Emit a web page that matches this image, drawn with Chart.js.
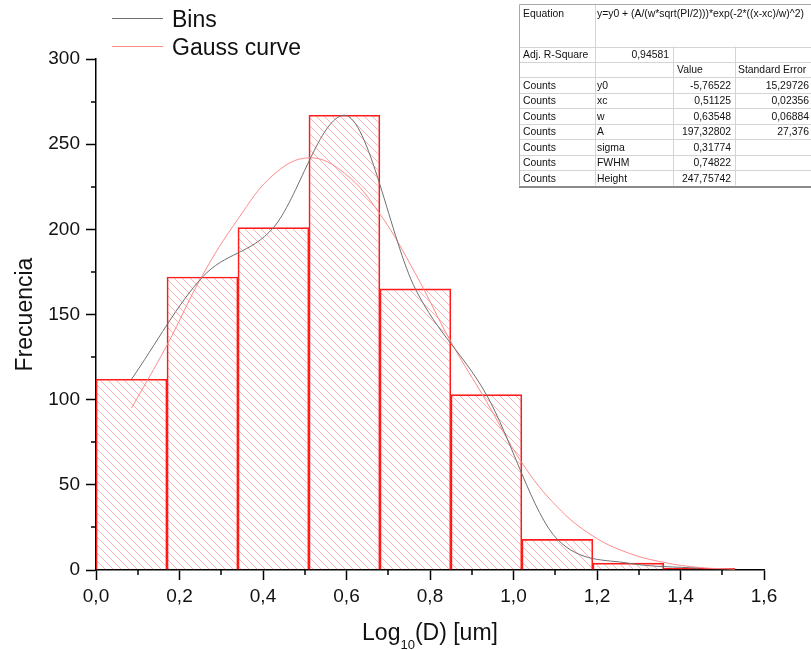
<!DOCTYPE html>
<html>
<head>
<meta charset="utf-8">
<script src="https://cdn.jsdelivr.net/npm/chart.js@4/dist/chart.umd.min.js"></script>
<style>
  html, body { margin: 0; padding: 0; background: #fff; }
  #wrap { width: 811px; height: 650px; }
</style>
</head>
<body>
<div id="wrap"><canvas id="c" width="811" height="650"></canvas></div>
<script>
// Histogram of log10 diameters: bin centres and counts
const binCenters = [0.085, 0.255, 0.425, 0.595, 0.765, 0.935, 1.105, 1.275, 1.445];
const binCounts  = [112, 172, 201, 267, 165, 103, 18, 4, 1];

// Fitted Gauss curve, sampled along the diameter axis
const gaussX = [0.085, 0.17, 0.255, 0.34, 0.425, 0.51, 0.595, 0.68, 0.765, 0.85,
                0.935, 1.02, 1.105, 1.19, 1.275, 1.36, 1.445, 1.53];
const gaussY = [95, 132, 173, 206, 232, 242, 233, 209, 174, 134,
                99, 63, 37, 20, 10, 4.5, 1.5, 0.5];

// Axis tick labels
const xTickLabels = ['0,0', '0,2', '0,4', '0,6', '0,8', '1,0', '1,2', '1,4', '1,6'];
const yTickLabels = ['0', '50', '100', '150', '200', '250', '300'];
const xMinorTicks = [0.1, 0.3, 0.5, 0.7, 0.9, 1.1, 1.3, 1.5];
const yMinorTicks = [25, 75, 125, 175, 225, 275];

// Fit report
const fitEquation = 'y=y0 + (A/(w*sqrt(PI/2)))*exp(-2*((x-xc)/w)^2)';
const adjRSquare = '0,94581';
const paramNames  = ['y0', 'xc', 'w', 'A', 'sigma', 'FWHM', 'Height'];
const paramValues = ['-5,76522', '0,51125', '0,63548', '197,32802', '0,31774', '0,74822', '247,75742'];
const paramErrors = ['15,29726', '0,02356', '0,06884', '27,376', '', '', ''];

const FONT = '"Liberation Sans", Arial, Helvetica, sans-serif';

const canvas = document.getElementById('c');
const mainCtx = canvas.getContext('2d');

// diagonal hatch used to fill the histogram bars
function makeHatch() {
  const t = document.createElement('canvas');
  t.width = 8; t.height = 8;
  const g = t.getContext('2d');
  g.strokeStyle = 'rgba(255,80,80,0.45)';
  g.lineWidth = 1;
  g.beginPath();
  g.moveTo(-1, -1); g.lineTo(9, 9);
  g.moveTo(-1, 7); g.lineTo(1, 9);
  g.moveTo(7, -1); g.lineTo(9, 1);
  g.stroke();
  return mainCtx.createPattern(t, 'repeat');
}
const hatch = makeHatch();

const decorations = {
  id: 'decorations',
  afterDraw(chart) {
    const ctx = chart.ctx;
    const xa = chart.scales.x, ya = chart.scales.y;
    const area = chart.chartArea;
    ctx.save();

    // minor ticks
    ctx.strokeStyle = '#000';
    ctx.lineWidth = 1.5;
    ctx.beginPath();
    xMinorTicks.forEach(v => {
      const px = Math.round(xa.getPixelForValue(v));
      ctx.moveTo(px, area.bottom);
      ctx.lineTo(px, area.bottom + 5);
    });
    yMinorTicks.forEach(v => {
      const py = Math.round(ya.getPixelForValue(v));
      ctx.moveTo(area.left, py);
      ctx.lineTo(area.left - 5, py);
    });
    ctx.stroke();

    // y axis title
    ctx.fillStyle = '#111';
    ctx.font = '23px ' + FONT;
    ctx.save();
    ctx.translate(32, (area.top + area.bottom) / 2);
    ctx.rotate(-Math.PI / 2);
    ctx.textAlign = 'center';
    ctx.textBaseline = 'alphabetic';
    ctx.fillText('Frecuencia', 0, 0);
    ctx.restore();

    // x axis title with subscript
    const mainFont = '23px ' + FONT, subFont = '13px ' + FONT;
    ctx.font = mainFont;
    const wA = ctx.measureText('Log').width;
    const wC = ctx.measureText('(D) [um]').width;
    ctx.font = subFont;
    const wB = ctx.measureText('10').width;
    let tx = (area.left + area.right) / 2 - (wA + wB + wC) / 2;
    const base = 640;
    ctx.textAlign = 'left';
    ctx.textBaseline = 'alphabetic';
    ctx.font = mainFont; ctx.fillText('Log', tx, base); tx += wA;
    ctx.font = subFont;  ctx.fillText('10', tx, base + 9); tx += wB;
    ctx.font = mainFont; ctx.fillText('(D) [um]', tx, base);

    // legend
    const legendItems = [
      { ds: chart.data.datasets[0], y: 18, text: 'Bins', baseline: 27 },
      { ds: chart.data.datasets[1], y: 46, text: 'Gauss curve', baseline: 55 }
    ];
    legendItems.forEach(it => {
      ctx.strokeStyle = it.ds.borderColor;
      ctx.lineWidth = 1;
      ctx.beginPath();
      ctx.moveTo(112, it.y + 0.5);
      ctx.lineTo(163, it.y + 0.5);
      ctx.stroke();
      ctx.fillStyle = '#111';
      ctx.font = '23px ' + FONT;
      ctx.fillText(it.text, 172, it.baseline);
    });

    // fit results table
    const cols = [519, 595, 673, 735];
    const right = 812;
    const rows = [4, 46.5, 61.5, 77];
    for (let i = 0; i < paramNames.length; i++) rows.push(77 + 15.5 * (i + 1));
    const bottom = rows[rows.length - 1];
    ctx.fillStyle = '#fff';
    ctx.fillRect(cols[0], rows[0], right - cols[0], bottom - rows[0]);

    ctx.strokeStyle = '#d4d4d4';
    ctx.lineWidth = 1;
    ctx.beginPath();
    rows.slice(1, -1).forEach(r => {
      const y = Math.round(r) + 0.5;
      ctx.moveTo(cols[0], y); ctx.lineTo(right, y);
    });
    ctx.moveTo(cols[1] + 0.5, rows[0]); ctx.lineTo(cols[1] + 0.5, bottom);
    ctx.moveTo(cols[2] + 0.5, rows[1]); ctx.lineTo(cols[2] + 0.5, bottom);
    ctx.moveTo(cols[3] + 0.5, rows[1]); ctx.lineTo(cols[3] + 0.5, bottom);
    ctx.stroke();

    ctx.strokeStyle = '#a8a8a8';
    ctx.beginPath();
    ctx.moveTo(cols[0] + 0.5, bottom); ctx.lineTo(cols[0] + 0.5, rows[0] + 0.5);
    ctx.lineTo(right, rows[0] + 0.5);
    ctx.stroke();
    ctx.strokeStyle = '#8a8a8a';
    ctx.lineWidth = 2;
    ctx.beginPath();
    ctx.moveTo(cols[0], Math.round(bottom) + 1); ctx.lineTo(right, Math.round(bottom) + 1);
    ctx.stroke();

    ctx.fillStyle = '#111';
    ctx.font = '10.4px ' + FONT;
    ctx.textBaseline = 'alphabetic';
    const padL = 4;
    ctx.textAlign = 'left';
    ctx.fillText('Equation', cols[0] + padL, 17);
    ctx.fillText(fitEquation, cols[1] + 2, 17);
    ctx.fillText('Adj. R-Square', cols[0] + padL, rows[2] - 4);
    ctx.fillText('Value', cols[2] + 4, rows[3] - 4);
    ctx.fillText('Standard Error', cols[3] + 3, rows[3] - 4);
    ctx.textAlign = 'right';
    ctx.fillText(adjRSquare, cols[2] - 4, rows[2] - 4);
    paramNames.forEach((name, i) => {
      const by = rows[4 + i] - 4;
      ctx.textAlign = 'left';
      ctx.fillText('Counts', cols[0] + padL, by);
      ctx.fillText(name, cols[1] + 2, by);
      ctx.textAlign = 'right';
      ctx.fillText(paramValues[i], cols[3] - 4, by);
      if (paramErrors[i]) ctx.fillText(paramErrors[i], 809, by);
    });

    ctx.restore();
  }
};

new Chart(canvas, {
  type: 'line',
  data: {
    datasets: [
      {
        type: 'line',
        label: 'Bins',
        data: binCenters.map((x, i) => ({ x, y: binCounts[i] })),
        borderColor: '#707070',
        borderWidth: 1,
        pointRadius: 0,
        cubicInterpolationMode: 'monotone',
        fill: false,
        order: 0
      },
      {
        type: 'line',
        label: 'Gauss curve',
        data: gaussX.map((x, i) => ({ x, y: gaussY[i] })),
        borderColor: '#ff8a8a',
        borderWidth: 1,
        pointRadius: 0,
        tension: 0.4,
        fill: false,
        order: 1
      },
      {
        type: 'bar',
        label: 'Counts',
        data: binCenters.map((x, i) => ({ x, y: binCounts[i] })),
        backgroundColor: hatch,
        borderColor: '#ff1a1a',
        borderWidth: 1,
        barPercentage: 1,
        categoryPercentage: 1,
        order: 2
      }
    ]
  },
  options: {
    responsive: false,
    animation: false,
    events: [],
    layout: { padding: { top: 59, right: 47, bottom: 0, left: 0 } },
    plugins: { legend: { display: false }, tooltip: { enabled: false }, title: { display: false } },
    scales: {
      x: {
        type: 'linear',
        position: 'bottom',
        min: 0,
        max: 1.6,
        offset: false,
        ticks: {
          stepSize: 0.2,
          autoSkip: false,
          maxRotation: 0,
          padding: 5,
          color: '#111',
          font: { family: FONT, size: 19 },
          callback: (v, i) => xTickLabels[i]
        },
        grid: { display: true, offset: false, drawOnChartArea: false, tickLength: 10, tickColor: '#000', tickWidth: 1.5 },
        border: { display: true, color: '#000', width: 1.5 },
        afterFit: s => { s.height = 80; }
      },
      y: {
        type: 'linear',
        position: 'left',
        min: 0,
        max: 300,
        ticks: {
          stepSize: 50,
          autoSkip: false,
          padding: 6,
          color: '#111',
          font: { family: FONT, size: 19 },
          callback: (v, i) => yTickLabels[i]
        },
        grid: { display: true, drawOnChartArea: false, tickLength: 10, tickColor: '#000', tickWidth: 1.5 },
        border: { display: true, color: '#000', width: 1.5 },
        afterFit: s => { s.width = 96; }
      }
    }
  },
  plugins: [decorations]
});
</script>
</body>
</html>
